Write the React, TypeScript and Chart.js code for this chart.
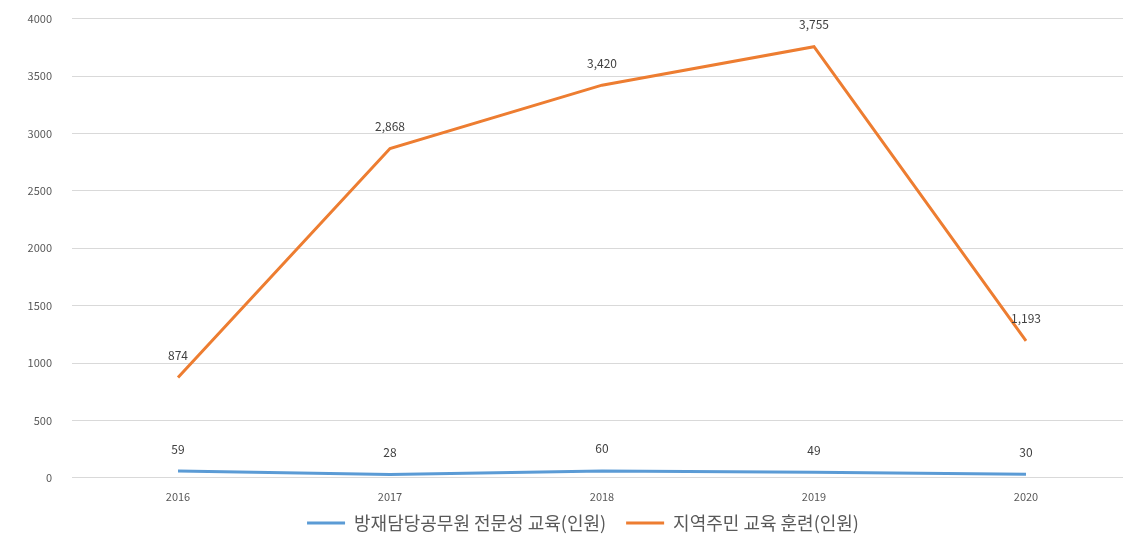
import React, { useEffect, useRef } from "react";
import { Chart, registerables } from "chart.js";

Chart.register(...registerables);

const years = ["2016", "2017", "2018", "2019", "2020"];
const officialsEdu = [59, 28, 60, 49, 30];
const residentsEdu = [874, 2868, 3420, 3755, 1193];
const seriesNames = ["방재담당공무원 전문성 교육(인원)", "지역주민 교육 훈련(인원)"];
const yTicksMax = 4000;
const yTickStep = 500;

const FONT = '"Noto Sans CJK KR", "Noto Sans", sans-serif';

const dataLabels = {
  id: "dataLabels",
  afterDatasetsDraw(chart: any) {
    const ctx = chart.ctx;
    ctx.save();
    ctx.font = `12px ${FONT}`;
    ctx.fillStyle = "#404040";
    ctx.textAlign = "center";
    ctx.textBaseline = "middle";
    chart.data.datasets.forEach((ds: any, i: number) => {
      const meta = chart.getDatasetMeta(i);
      meta.data.forEach((pt: any, j: number) => {
        const v = ds.data[j] as number;
        ctx.fillText(v.toLocaleString("en-US"), pt.x, pt.y - 22);
      });
    });
    ctx.restore();
  },
};

const legendShift = {
  id: "legendShift",
  afterLayout(chart: any) {
    const lg = chart.legend;
    if (lg) {
      lg.left += 17;
      lg.right += 17;
      lg.top -= 13;
      lg.bottom -= 13;
    }
  },
};

export default function App() {
  const ref = useRef<HTMLCanvasElement>(null);
  useEffect(() => {
    if (!ref.current) return;
    const chart = new Chart(ref.current, {
      type: "line",
      data: {
        labels: years,
        datasets: [
          {
            label: seriesNames[0],
            data: officialsEdu,
            borderColor: "#5B9BD5",
            backgroundColor: "#5B9BD5",
            borderWidth: 3,
            pointRadius: 0,
            tension: 0,
          },
          {
            label: seriesNames[1],
            data: residentsEdu,
            borderColor: "#ED7D31",
            backgroundColor: "#ED7D31",
            borderWidth: 3,
            pointRadius: 0,
            tension: 0,
          },
        ],
      },
      options: {
        responsive: false,
        animation: false,
        layout: { padding: { top: 4, right: 2, bottom: 0, left: 0 } },
        plugins: {
          tooltip: { enabled: false },
          legend: {
            position: "bottom",
            labels: {
              font: { family: FONT, size: 18 },
              color: "#595959",
              boxWidth: 38,
              boxHeight: 3,
              padding: 20,
              generateLabels(c: any) {
                return Chart.defaults.plugins.legend.labels
                  .generateLabels(c)
                  .map((l: any) => ({ ...l, lineWidth: 0 }));
              },
            },
          },
        },
        scales: {
          x: {
            offset: true,
            grid: { display: false },
            border: { display: false },
            ticks: { font: { family: FONT, size: 11 }, color: "#595959", padding: 4 },
          },
          y: {
            min: 0,
            max: yTicksMax,
            afterFit(s: any) {
              s.width = 72;
            },
            grid: { color: "#d9d9d9", drawTicks: false },
            border: { display: false },
            ticks: {
              stepSize: yTickStep,
              font: { family: FONT, size: 11 },
              color: "#595959",
              padding: 20,
              callback: (v: any) => String(v),
            },
          },
        },
      },
      plugins: [dataLabels, legendShift],
    });
    return () => chart.destroy();
  }, []);
  return (
    <div
      style={{
        position: "fixed",
        left: 0,
        top: 0,
        width: 1123,
        height: 554,
        overflow: "hidden",
        background: "#fff",
      }}
    >
      <canvas
        ref={ref}
        width={1134}
        height={563}
        style={{ position: "absolute", left: 0, top: -8, width: 1134, height: 563 }}
      />
    </div>
  );
}
